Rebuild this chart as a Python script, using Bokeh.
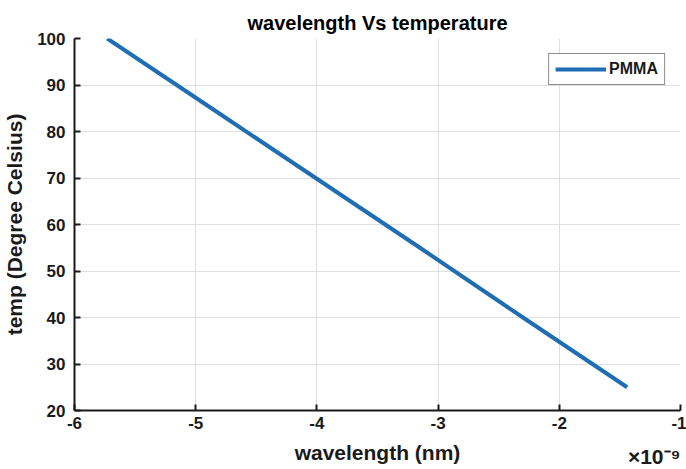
from bokeh.plotting import figure
from bokeh.models import FixedTicker, CustomJSTickFormatter, Legend, LegendItem, Title, Range1d
from bokeh.embed import file_html
from bokeh.resources import INLINE

# data
wavelength = [-5.73e-9, -4.87e-9, -4.01e-9, -3.15e-9, -2.30e-9, -1.44e-9]
temperature = [100, 85, 70, 55, 40, 25]
x_ticks = [-6e-9, -5e-9, -4e-9, -3e-9, -2e-9, -1e-9]
y_ticks = [20, 30, 40, 50, 60, 70, 80, 90, 100]

FONT = "Liberation Sans"
INK = "#1a1a1a"

p = figure(width=686, height=469, output_backend="svg", toolbar_location=None,
           x_range=Range1d(-6e-9, -1e-9), y_range=Range1d(20, 100),
           min_border_left=71, min_border_right=6, min_border_top=38, min_border_bottom=59)
p.outline_line_color = None
p.background_fill_color = "white"

p.title.text = "wavelength Vs temperature"
p.title.text_font = FONT
p.title.text_font_size = "20px"
p.title.text_font_style = "bold"
p.title.align = "center"
p.title.text_color = "#000000"
p.title.standoff = 10

r = p.line(wavelength, temperature, line_color="#1f6db2", line_width=4)

for ax in (p.xaxis[0], p.yaxis[0]):
    ax.axis_line_width = 2
    ax.axis_line_color = INK
    ax.major_tick_in = 6
    ax.major_tick_out = 0
    ax.major_tick_line_width = 2
    ax.major_tick_line_color = INK
    ax.minor_tick_line_color = None
    ax.major_label_text_font = FONT
    ax.major_label_text_font_size = "17px"
    ax.major_label_text_font_style = "bold"
    ax.major_label_text_color = INK
    ax.axis_label_text_font = FONT
    ax.axis_label_text_font_size = "21px"
    ax.axis_label_text_font_style = "bold"
    ax.axis_label_text_color = INK

p.xaxis.ticker = FixedTicker(ticks=x_ticks)
p.xaxis.formatter = CustomJSTickFormatter(code="return (tick*1e9).toFixed(0);")
p.xaxis.axis_label = "wavelength (nm)"
p.xaxis.major_label_standoff = 6
p.xaxis.axis_label_standoff = 9

p.yaxis.ticker = FixedTicker(ticks=y_ticks)
p.yaxis.axis_label = "temp (Degree Celsius)"
p.yaxis.major_label_standoff = 9
p.yaxis.axis_label_standoff = 8

p.xgrid.grid_line_color = "#dfdfdf"
p.ygrid.grid_line_color = "#dfdfdf"
p.xgrid.grid_line_width = 1
p.ygrid.grid_line_width = 1

legend = Legend(items=[LegendItem(label="PMMA", renderers=[r])], location="top_right",
                label_text_font=FONT, label_text_font_size="16px", label_text_font_style="bold",
                label_text_color=INK, border_line_color=INK, border_line_width=1,
                glyph_width=51, glyph_height=16, label_standoff=3, padding=6, spacing=0,
                margin=15, background_fill_alpha=1)
p.add_layout(legend)

exp_title = Title(text="\u00d710\u207b\u2079", align="right", vertical_align="top",
                  text_font=FONT, text_font_size="21px", text_font_style="bold",
                  text_color=INK, standoff=-44, offset=0)
p.add_layout(exp_title, "below")

open("out.html", "w").write(file_html(p, INLINE))
